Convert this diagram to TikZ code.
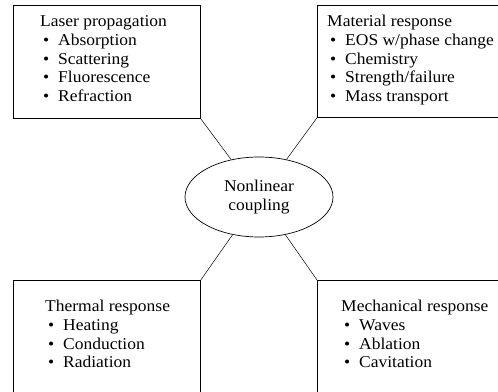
\documentclass[tikz,border=0pt]{standalone}
\usepackage{fontspec}
\setmainfont[FakeStretch=1.06]{Liberation Serif}
\usetikzlibrary{shapes.geometric}
\begin{document}
\begin{tikzpicture}[x=1pt,y=1pt,
  box/.style={draw, line width=0.8pt, inner sep=0pt, anchor=north west},
  txt/.style={anchor=base west, inner sep=0pt, font=\fontsize{16.5}{18.6}\selectfont},
  link/.style={line width=0.5pt}]
\useasboundingbox (0,0) rectangle (498,391);
\clip (0,0) rectangle (498,391);
\newcommand{\itm}{\hspace*{3pt}\makebox[15pt][l]{\textbullet}}
% boxes
\node[box, minimum width=187pt, minimum height=113pt] (laser) at (13,386) {};
\node[box, minimum width=200pt, minimum height=112pt] (mat) at (317,386) {};
\node[box, minimum width=187pt, minimum height=130pt] (therm) at (13,111) {};
\node[box, minimum width=200pt, minimum height=130pt] (mech) at (317,111) {};
% texts
\node[txt] (lasert) at (40,364) {\begin{tabular}[t]{@{}l@{}}Laser propagation\\ \itm Absorption\\ \itm Scattering\\ \itm Fluorescence\\ \itm Refraction\end{tabular}};
\node[txt] (matt) at (327,364) {\begin{tabular}[t]{@{}l@{}}Material response\\ \itm EOS w/phase change\\ \itm Chemistry\\ \itm Strength/failure\\ \itm Mass transport\end{tabular}};
\node[txt] (thermt) at (45,79) {\begin{tabular}[t]{@{}l@{}}Thermal response\\ \itm Heating\\ \itm Conduction\\ \itm Radiation\end{tabular}};
\node[txt] (mecht) at (341,79) {\begin{tabular}[t]{@{}l@{}}Mechanical response\\ \itm Waves\\ \itm Ablation\\ \itm Cavitation\end{tabular}};
% center
\node[ellipse, draw, line width=0.7pt, minimum width=148pt, minimum height=80pt, inner sep=0pt, align=center, font=\fontsize{16.5}{18.6}\selectfont] (nl) at (259,194) {Nonlinear\\coupling};
% links
\draw[link] (laser.south east) -- (nl);
\draw[link] (mat.south west) -- (nl);
\draw[link] (therm.north east) -- (nl);
\draw[link] (mech.north west) -- (nl);
\end{tikzpicture}
\end{document}
